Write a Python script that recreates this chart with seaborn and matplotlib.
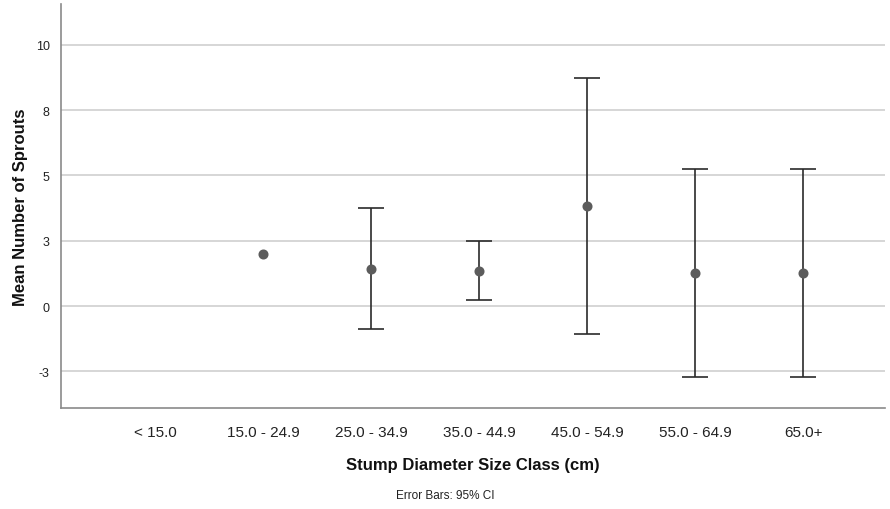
import matplotlib
matplotlib.use("Agg")
import matplotlib.pyplot as plt
import seaborn as sns
import numpy as np
import pandas as pd

categories = ["< 15.0", "15.0 - 24.9", "25.0 - 34.9", "35.0 - 44.9", "45.0 - 54.9", "55.0 - 64.9", "65.0+"]
means = [np.nan, 2.0, 1.43, 1.35, 3.84, 1.25, 1.25]
ci_low = [np.nan, np.nan, -0.89, 0.22, -1.07, -2.73, -2.73]
ci_high = [np.nan, np.nan, 3.75, 2.48, 8.75, 5.24, 5.24]
ytick_values = [-2.5, 0, 2.5, 5, 7.5, 10]
ytick_labels = ["-3", "0", "3", "5", "8", "10"]

sns.set_style("white")
plt.rcParams["font.family"] = ["Liberation Sans", "DejaVu Sans"]

df = pd.DataFrame({"cat": categories, "mean": means, "lo": ci_low, "hi": ci_high})

fig = plt.figure(figsize=(8.9, 5.1), dpi=100)
ax = fig.add_axes([0.0685, 0.198, 0.926, 0.792])

for y in ytick_values:
    ax.axhline(y, color="#d0d0d0", linewidth=1.2, zorder=0)

# error bars
x_pos = np.arange(len(categories))
mask = ~df["lo"].isna()
m = df["mean"][mask].to_numpy()
ax.errorbar(x_pos[mask], m,
            yerr=[m - df["lo"][mask].to_numpy(), df["hi"][mask].to_numpy() - m],
            fmt="none", ecolor="#2b2b2b", elinewidth=1.2, capsize=9.7, capthick=1.2, zorder=2)

sns.pointplot(data=df, x="cat", y="mean", order=categories, linestyle="none",
              errorbar=None, color="#5c5c5c", markers="o", markersize=5.2, ax=ax, zorder=3)

ax.set_xlim(-0.87, 6.76)
ax.set_ylim(-3.9, 11.56)
ax.set_yticks(ytick_values)
ax.set_yticklabels(ytick_labels)
ax.tick_params(axis="y", length=0, pad=8, labelsize=9, colors="#222222")
ax.tick_params(axis="x", length=0, pad=12, labelsize=11, colors="#222222")

for s in ["top", "right"]:
    ax.spines[s].set_visible(False)
for s in ["left", "bottom"]:
    ax.spines[s].set_color("#8a8a8a")
    ax.spines[s].set_linewidth(1.2)

ax.set_xlabel("Stump Diameter Size Class (cm)", fontsize=12, fontweight="bold", labelpad=13, color="#111111")
ax.set_ylabel("Mean Number of Sprouts", fontsize=12, fontweight="bold", labelpad=6, color="#111111")

fig.text(0.5, 0.027, "Error Bars: 95% CI", ha="center", va="center", fontsize=8.5, color="#222222")

fig.savefig("out.png", dpi=100)
